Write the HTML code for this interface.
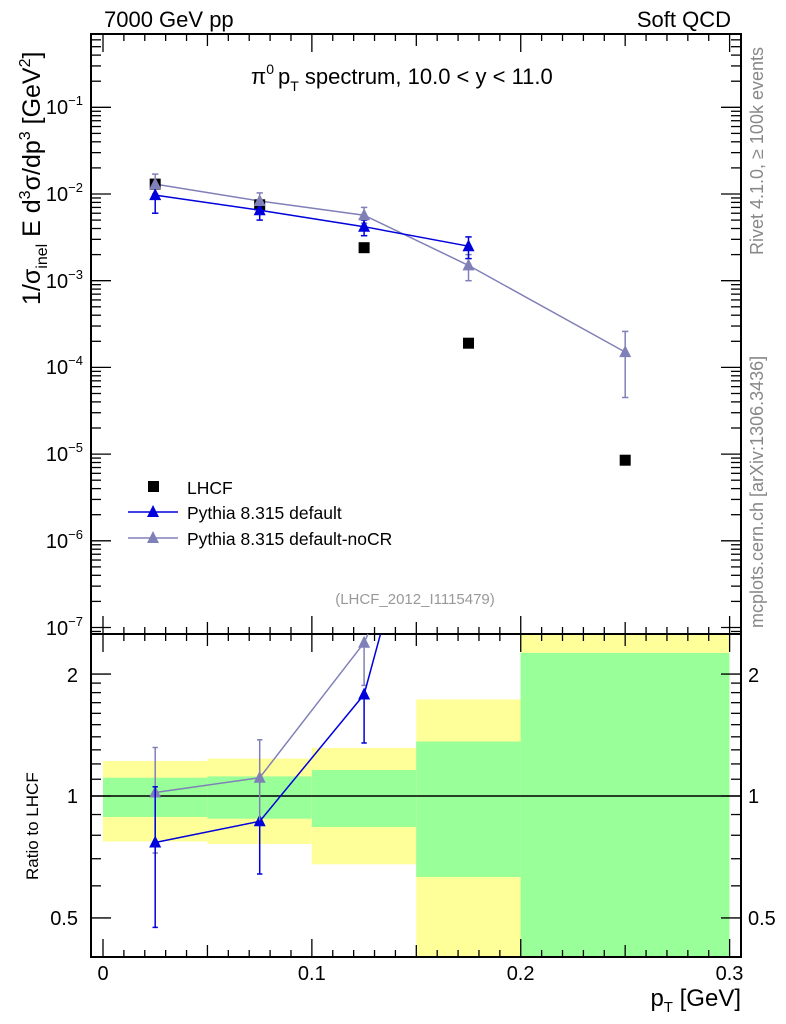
<!DOCTYPE html>
<html><head><meta charset="utf-8"><style>
html,body{margin:0;padding:0;background:#fff;}
svg{display:block;font-family:"Liberation Sans",sans-serif;}
</style></head><body>
<svg id="s" width="786" height="1024" viewBox="0 0 786 1024" xmlns="http://www.w3.org/2000/svg">
<g>
<rect x="103" y="761" width="104.4" height="80.5" fill="#ffff99"/>
<rect x="103" y="777.7" width="104.4" height="39.3" fill="#99ff99"/>
<rect x="207.4" y="758.6" width="104.4" height="85.4" fill="#ffff99"/>
<rect x="207.4" y="776.4" width="104.4" height="42.3" fill="#99ff99"/>
<rect x="311.8" y="747.9" width="104.4" height="116.4" fill="#ffff99"/>
<rect x="311.8" y="770" width="104.4" height="57" fill="#99ff99"/>
<rect x="416.2" y="699.5" width="104.4" height="257.5" fill="#ffff99"/>
<rect x="416.2" y="741.5" width="104.4" height="135.5" fill="#99ff99"/>
<rect x="520.6" y="634" width="208.9" height="323" fill="#ffff99"/>
<rect x="520.6" y="652.9" width="208.9" height="304.1" fill="#99ff99"/>
</g>
<line x1="91" y1="796" x2="741" y2="796" stroke="#000" stroke-width="1.5"/>
<g id="ticks" stroke="#000" stroke-width="1.3"></g>
<rect x="91" y="34" width="650" height="600" fill="none" stroke="#000" stroke-width="2"/>
<rect x="91" y="634" width="650" height="323" fill="none" stroke="#000" stroke-width="2"/>

<g stroke="#8080b8" stroke-width="1.5" fill="none">
<polyline points="155.2,184.1 259.7,201 364.1,215.2 468.5,265.4 625.2,352.1"/>
<line x1="155.2" y1="174.1" x2="155.2" y2="194"/><line x1="152" y1="174.1" x2="158.4" y2="174.1"/><line x1="152" y1="194" x2="158.4" y2="194"/>
<line x1="259.7" y1="192.9" x2="259.7" y2="210.2"/><line x1="256.5" y1="192.9" x2="262.9" y2="192.9"/><line x1="256.5" y1="210.2" x2="262.9" y2="210.2"/>
<line x1="364.1" y1="207.4" x2="364.1" y2="223.2"/><line x1="360.9" y1="207.4" x2="367.3" y2="207.4"/><line x1="360.9" y1="223.2" x2="367.3" y2="223.2"/>
<line x1="468.5" y1="254.6" x2="468.5" y2="280.7"/><line x1="465.3" y1="254.6" x2="471.7" y2="254.6"/><line x1="465.3" y1="280.7" x2="471.7" y2="280.7"/>
<line x1="625.2" y1="331.4" x2="625.2" y2="397.5"/><line x1="622" y1="331.4" x2="628.4" y2="331.4"/><line x1="622" y1="397.5" x2="628.4" y2="397.5"/>
</g>
<g fill="#000">
<rect x="149.7" y="178.6" width="11" height="11"/>
<rect x="254.2" y="199.3" width="11" height="11"/>
<rect x="358.6" y="242.2" width="11" height="11"/>
<rect x="463" y="337.7" width="11" height="11"/>
<rect x="619.7" y="454.7" width="11" height="11"/>
</g>
<g stroke="#0000dd" stroke-width="1.5" fill="none">
<polyline points="155.2,195.1 259.7,210.2 364.1,226.7 468.5,246.2"/>
<line x1="155.2" y1="184.1" x2="155.2" y2="213.2"/><line x1="152" y1="213.2" x2="158.4" y2="213.2"/><line x1="152" y1="184.1" x2="158.4" y2="184.1"/>
<line x1="259.7" y1="202.4" x2="259.7" y2="220.1"/><line x1="256.5" y1="202.4" x2="262.9" y2="202.4"/><line x1="256.5" y1="220.1" x2="262.9" y2="220.1"/>
<line x1="364.1" y1="220.1" x2="364.1" y2="235.7"/><line x1="360.9" y1="220.1" x2="367.3" y2="220.1"/><line x1="360.9" y1="235.7" x2="367.3" y2="235.7"/>
<line x1="468.5" y1="236.9" x2="468.5" y2="258.6"/><line x1="465.3" y1="236.9" x2="471.7" y2="236.9"/><line x1="465.3" y1="258.6" x2="471.7" y2="258.6"/>
</g>
<g fill="#0000dd" id="tb"></g>
<g fill="#8080b8" id="tg"></g>

<g stroke="#8080b8" stroke-width="1.5" fill="none">
<polyline points="155.2,792.5 259.7,777.7 364.1,642.8 368,634"/>
<line x1="155.2" y1="747.5" x2="155.2" y2="853"/><line x1="152.5" y1="747.5" x2="157.9" y2="747.5"/><line x1="152.5" y1="853" x2="157.9" y2="853"/>
<line x1="259.7" y1="739.8" x2="259.7" y2="821"/><line x1="257" y1="739.8" x2="262.4" y2="739.8"/>
<line x1="364.1" y1="642.8" x2="364.1" y2="685.4"/><line x1="361.4" y1="685.4" x2="366.8" y2="685.4"/>
</g>
<g stroke="#0000dd" stroke-width="1.5" fill="none">
<polyline points="155.2,842.5 259.7,821.3 364.1,694.5 380.5,634"/>
<line x1="155.2" y1="786.8" x2="155.2" y2="927.4"/><line x1="152.5" y1="786.8" x2="157.9" y2="786.8"/><line x1="152.5" y1="927.4" x2="157.9" y2="927.4"/>
<line x1="259.7" y1="821.3" x2="259.7" y2="874"/><line x1="257" y1="874" x2="262.4" y2="874"/>
<line x1="364.1" y1="694.5" x2="364.1" y2="743"/><line x1="361.4" y1="743" x2="366.8" y2="743"/>
</g>

<rect x="148" y="481" width="11" height="11" fill="#000"/>
<line x1="128" y1="512" x2="178" y2="512" stroke="#0000dd" stroke-width="1.5"/>
<line x1="128" y1="538" x2="178" y2="538" stroke="#8080b8" stroke-width="1.5"/>
<text x="187" y="494" font-size="17.5">LHCF</text>
<text x="187" y="519" font-size="17.5">Pythia 8.315 default</text>
<text x="187" y="545" font-size="17.5">Pythia 8.315 default-noCR</text>

<text x="104" y="27" font-size="22">7000 GeV pp</text>
<text x="731" y="27" font-size="22" text-anchor="end">Soft QCD</text>
<text x="251" y="84" font-size="22">π<tspan font-size="14" dy="-10">0</tspan><tspan dy="10" dx="4">p</tspan><tspan font-size="14" dy="7">T</tspan><tspan dy="-7"> spectrum, 10.0 &lt; y &lt; 11.0</tspan></text>
<text x="415" y="604" font-size="15" fill="#999" text-anchor="middle">(LHCF_2012_I1115479)</text>
<text transform="translate(763,255) rotate(-90)" font-size="18" fill="#888">Rivet 4.1.0, ≥ 100k events</text>
<text transform="translate(763,628) rotate(-90)" font-size="18" fill="#888">mcplots.cern.ch [arXiv:1306.3436]</text>
<text transform="translate(40,305) rotate(-90)" font-size="25">1/σ<tspan font-size="16" dy="7">inel</tspan><tspan dy="-7"> E d</tspan><tspan font-size="16" dy="-10">3</tspan><tspan dy="10">σ/dp</tspan><tspan font-size="16" dy="-10">3</tspan><tspan dy="10"> [GeV</tspan><tspan font-size="16" dy="-10">2</tspan><tspan dy="10">]</tspan></text>
<text transform="translate(38,880) rotate(-90)" font-size="17">Ratio to LHCF</text>
<g font-size="20" text-anchor="end">
<text x="83" y="114">10<tspan font-size="13" dy="-9">−1</tspan></text>
<text x="83" y="201">10<tspan font-size="13" dy="-9">−2</tspan></text>
<text x="83" y="288">10<tspan font-size="13" dy="-9">−3</tspan></text>
<text x="83" y="374">10<tspan font-size="13" dy="-9">−4</tspan></text>
<text x="83" y="461">10<tspan font-size="13" dy="-9">−5</tspan></text>
<text x="83" y="548">10<tspan font-size="13" dy="-9">−6</tspan></text>
<text x="83" y="635">10<tspan font-size="13" dy="-9">−7</tspan></text>
<text x="78" y="682">2</text>
<text x="78" y="803">1</text>
<text x="78" y="925">0.5</text>
</g>
<g font-size="20">
<text x="748" y="682">2</text>
<text x="748" y="803">1</text>
<text x="748" y="925">0.5</text>
</g>
<g font-size="20" text-anchor="middle">
<text x="103" y="980">0</text>
<text x="311.8" y="980">0.1</text>
<text x="520.6" y="980">0.2</text>
<text x="729.5" y="980">0.3</text>
</g>
<text x="741" y="1006" font-size="24" text-anchor="end">p<tspan font-size="15" dy="6">T</tspan><tspan dy="-6"> [GeV]</tspan></text>
</svg>
<script>
(function(){
var NS="http://www.w3.org/2000/svg";
var g=document.getElementById("ticks");
function L(x1,y1,x2,y2){var l=document.createElementNS(NS,"line");l.setAttribute("x1",x1);l.setAttribute("y1",y1);l.setAttribute("x2",x2);l.setAttribute("y2",y2);g.appendChild(l);}
function X(v){return 103+v*2088.7;}
for(var i=0;i<=34;i++){var v=i*0.01;var x=X(v);if(x<92||x>740)continue;var maj=(i%10==0),mid=(i%5==0);var len=maj?18:(mid?12:7);
 L(x,634,x,634-len);L(x,34,x,34+len);L(x,957,x,957-len);L(x,634,x,634+len);}
function Ym(v){return 107.3-86.7*(Math.log10(v)+1);}
for(var d=-8;d<=0;d++){for(var k=1;k<=9;k++){var v=k*Math.pow(10,d);var y=Ym(v);if(y<35||y>633)continue;var len=(k==1)?20:10;L(91,y,91+len,y);L(741,y,741-len,y);}}
function Yr(v){return 796-405*Math.log10(v);}
var rv=[0.4,0.5,0.6,0.7,0.8,0.9,1,1.1,1.2,1.3,1.4,1.5,1.6,1.7,1.8,1.9,2,2.5];
rv.forEach(function(v){var y=Yr(v);if(y<635||y>956)return;var len=(v==0.5||v==1||v==2)?20:10;L(91,y,91+len,y);L(741,y,741-len,y);});
function tri(id,pts){var gg=document.getElementById(id);pts.forEach(function(p){var t=document.createElementNS(NS,"polygon");t.setAttribute("points",(p[0]-6)+","+(p[1]+5)+" "+(p[0]+6)+","+(p[1]+5)+" "+p[0]+","+(p[1]-7));gg.appendChild(t);});}
tri("tb",[[155.2,195.1],[259.7,210.2],[364.1,226.7],[468.5,246.2],[155.2,842.5],[259.7,821.3],[364.1,694.5],[153,512]]);
tri("tg",[[155.2,184.1],[259.7,201],[364.1,215.2],[468.5,265.4],[625.2,352.1],[155.2,792.5],[259.7,777.7],[364.1,642.8],[153,538]]);
})();
</script>
</body></html>
